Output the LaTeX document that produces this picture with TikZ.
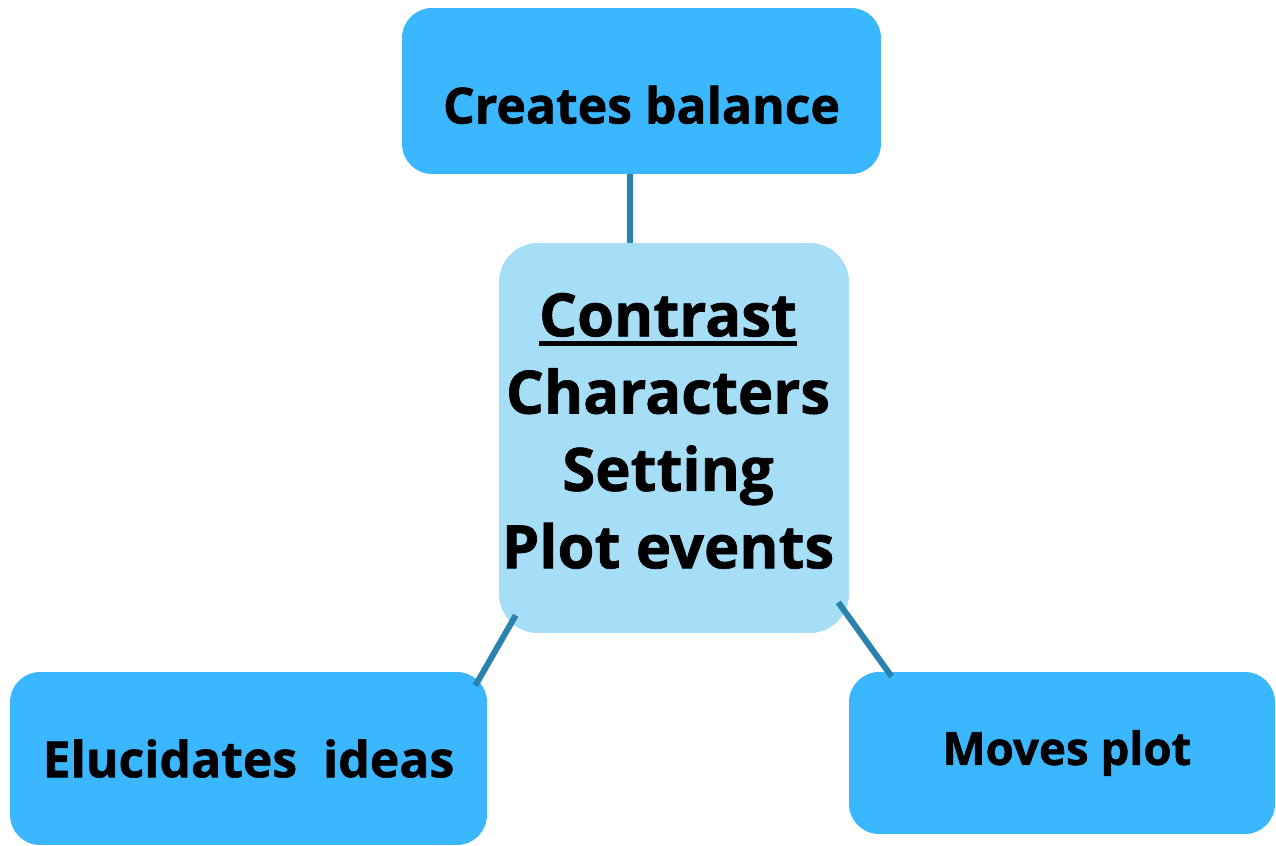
\documentclass[tikz,border=0pt]{standalone}
\usepackage{fontspec}
\setmainfont{Open Sans}[BoldFeatures={FakeBold=1.2}]
\usetikzlibrary{positioning, calc}
\definecolor{ideabox}{HTML}{3BB7FF}
\definecolor{themebox}{HTML}{A6DEF7}
\definecolor{ideasline}{HTML}{2A83AE}
% heavy underline for the heading word
\newcommand{\thickunderline}[1]{\vtop{\hbox{#1}\kern0.09cm\hrule height 0.09cm}}

\begin{document}
\begin{tikzpicture}[
    x=0.02cm, y=-0.02cm,
    ideanode/.style={
        fill=ideabox,
        rounded corners=0.6cm,
        inner sep=0pt,
        font=\fontsize{28.4}{34}\selectfont\bfseries
    },
    themenode/.style={
        fill=themebox,
        rounded corners=0.78cm,
        inner sep=0pt,
        align=center,
        font=\fontsize{34}{44}\selectfont\bfseries
    },
    ideaslink/.style={
        line width=0.12cm,
        ideasline
    }
]
    \useasboundingbox (0,0) rectangle (1276,846);

    \node[themenode, minimum width=7cm, minimum height=7.8cm] (contrast) at (674,438)
        {\thickunderline{Contrast}\kern0.24cm\\Characters\kern0.24cm\\Setting\kern0.24cm\\Plot events\kern0.24cm\\[-1.25cm]};

    \node[ideanode, minimum width=9.58cm, minimum height=3.32cm,
          text height=1.3cm, text depth=0pt] (balance) at (641.5,91) {Creates balance};
    \node[ideanode, minimum width=9.54cm, minimum height=3.46cm] (ideas) at (248.5,758.5)
        {Elucidates\ \ ideas};
    \node[ideanode, minimum width=8.52cm, minimum height=3.24cm,
          font=\fontsize{26}{32}\selectfont\bfseries] (plot) at (1062,753)
        {\hspace*{0.2cm}Moves plot};

    \draw[ideaslink] ([xshift=-0.23cm]balance.south) -- ([xshift=-0.23cm]balance.south |- contrast.north);
    \draw[ideaslink] ($(contrast.south west)+(17,-18)$) -- ($(ideas.north east)+(-12,14)$);
    \draw[ideaslink] ($(contrast.south east)+(-11,-31)$) -- ($(plot.north west)+(43,5)$);
\end{tikzpicture}
\end{document}
